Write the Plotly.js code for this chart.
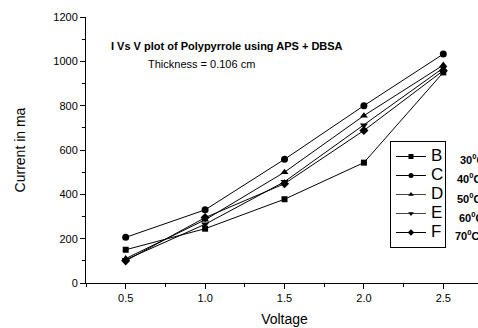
<!DOCTYPE html>
<html>
<head>
<meta charset="utf-8">
<script src="https://cdn.plot.ly/plotly-3.0.1.min.js"></script>
<style>
  html, body { margin: 0; padding: 0; overflow: hidden; background: #fff; }
  #chart { width: 484px; height: 328px; }
  .legend .legendtext { font-size: 17px !important; }
</style>
</head>
<body>
<div id="chart"></div>
<script>
const voltage = [0.5, 1.0, 1.5, 2.0, 2.5];
const seriesNames = ['B', 'C', 'D', 'E', 'F'];
const B = [150, 245, 378, 543, 950];
const C = [206, 330, 558, 800, 1033];
const D = [110, 285, 500, 755, 983];
const E = [105, 265, 457, 712, 970];
const F = [100, 295, 448, 688, 958];
const temps = ['30', '40', '50', '60', '70'];
const titleText = 'I Vs V plot of Polypyrrole using APS + DBSA';
const subText = 'Thickness = 0.106 cm';
const xTitle = 'Voltage';
const yTitle = 'Current in ma';

const series = [B, C, D, E, F];
const symbols = ['square', 'circle', 'triangle-up', 'triangle-down', 'diamond'];
const msizes = [6, 7, 7, 7, 7];

const traces = series.map((vals, i) => ({
  x: voltage, y: vals, name: seriesNames[i], type: 'scatter', mode: 'lines+markers',
  line: {color: '#000', width: 1},
  marker: {symbol: symbols[i], size: msizes[i], color: '#000'},
  showlegend: false
}));
// legend-only entries with the small markers of the reference legend
seriesNames.forEach((n, i) => traces.push({
  x: [null], y: [null], name: n, type: 'scatter', mode: 'lines+markers',
  line: {color: i === 2 || i === 3 ? '#444' : '#000', width: 1},
  marker: {symbol: symbols[i], size: 5, color: '#000'},
  showlegend: true
}));

const L = 86, T = 17, W = 484, H = 328, B0 = 283;
const pw = W - L - 1, ph = B0 - T;
const px = v => (v - L) / pw;
const py = v => (B0 - v) / ph;

const tempY = [159, 178, 198, 217, 235];
const tempX = [458, 455, 455, 457, 453];
const annotations = temps.map((t, i) => ({
  xref: 'paper', yref: 'paper', x: px(tempX[i]), y: py(tempY[i]),
  xanchor: 'left', yanchor: 'middle', showarrow: false,
  text: '<b>' + t + '<sup>0</sup>C</b>',
  font: {family: 'Arial, Liberation Sans, sans-serif', size: 11, color: '#000'}
}));
annotations.push({
  xref: 'paper', yref: 'paper', x: px(109), y: py(46), xanchor: 'left', yanchor: 'middle',
  showarrow: false, text: '<b>' + titleText + '</b>',
  font: {family: 'Arial, Liberation Sans, sans-serif', size: 11, color: '#000'}
});
annotations.push({
  xref: 'paper', yref: 'paper', x: px(146), y: py(64), xanchor: 'left', yanchor: 'middle',
  showarrow: false, text: subText,
  font: {family: 'Arial, Liberation Sans, sans-serif', size: 11, color: '#000'}
});

const layout = {
  width: W, height: H,
  margin: {l: L, r: 1, t: T, b: H - B0, pad: 0},
  paper_bgcolor: '#fff', plot_bgcolor: '#fff',
  font: {family: 'Arial, Liberation Sans, sans-serif', color: '#000', size: 11},
  showlegend: true,
  legend: {
    x: px(390), y: py(141), xanchor: 'left', yanchor: 'top',
    bordercolor: '#000', borderwidth: 1, bgcolor: '#fff',
    font: {size: 12, family: 'Arial, Liberation Sans, sans-serif'},
    tracegroupgap: 0
  },
  xaxis: {
    range: [0.25, 2.75], tickvals: voltage, ticktext: voltage.map(v => v.toFixed(1)),
    showline: true, linecolor: '#000', linewidth: 1, showgrid: false, zeroline: false,
    ticks: 'outside', ticklen: 5, tickcolor: '#000', tickwidth: 1,
    minor: {dtick: 0.25, tick0: 0.25, ticks: 'outside', ticklen: 3, tickcolor: '#000', showgrid: false},
    tickfont: {size: 11},
    title: {text: xTitle, font: {size: 14}, standoff: 10}
  },
  yaxis: {
    range: [0, 1200], dtick: 200, tick0: 0,
    showline: true, linecolor: '#000', linewidth: 1, showgrid: false, zeroline: false,
    ticks: 'outside', ticklen: 5, tickcolor: '#000', tickwidth: 1,
    minor: {dtick: 100, ticks: 'outside', ticklen: 3, tickcolor: '#000', showgrid: false},
    tickfont: {size: 11},
    title: {text: yTitle, font: {size: 14}, standoff: 24}
  },
  annotations: annotations
};

Plotly.newPlot('chart', traces, layout, {staticPlot: true, displayModeBar: false});
</script>
</body>
</html>
